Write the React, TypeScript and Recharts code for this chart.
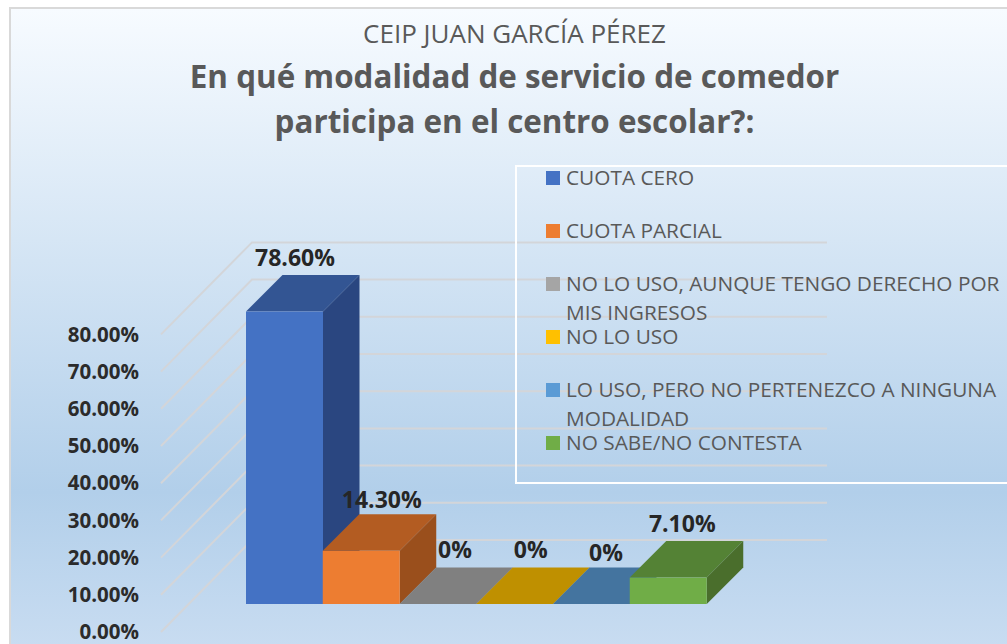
import React from 'react';
import { BarChart, Bar, XAxis, YAxis, CartesianGrid, LabelList, Legend } from 'recharts';

const categories = ['CUOTA CERO', 'CUOTA PARCIAL', 'NO LO USO, AUNQUE TENGO DERECHO POR MIS INGRESOS', 'NO LO USO', 'LO USO, PERO NO PERTENEZCO A NINGUNA MODALIDAD', 'NO SABE/NO CONTESTA'];
const values = [0.786, 0.143, 0, 0, 0, 0.071];
const valueLabels = ['78.60%', '14.30%', '0%', '0%', '0%', '7.10%'];
const yTicks = [0, 0.1, 0.2, 0.3, 0.4, 0.5, 0.6, 0.7, 0.8];
const frontColors = ['#4472c4', '#ed7d31', '#a5a5a5', '#ffc000', '#5b9bd5', '#70ad47'];
const topColors = ['#335593', '#b35c22', '#808080', '#bf9000', '#44749f', '#548235'];
const sideColors = ['#2a4680', '#9a4f1c', '#6f6f6f', '#a67c00', '#3b6489', '#4a6e2c'];

const data = categories.map((name, i) => ({ name, value: values[i], label: valueLabels[i] }));

const FONT = '"Open Sans", "Noto Sans", sans-serif';
const DEPTH = 36.5;
const labelOffsets = [
  { dx: 10.5, dy: -54 },
  { dx: 20.5, dy: -51 },
  { dx: 17, dy: -54 },
  { dx: 16, dy: -54 },
  { dx: 14.5, dy: -51 },
  { dx: 14, dy: -53.6 },
];
const legendTops = [163, 216, 269, 322, 375, 428];

function Bar3D(props: any) {
  const { x, y, width, height, index } = props;
  const r = x + width;
  const b = y + height;
  return (
    <g>
      <polygon points={`${x},${y} ${r},${y} ${r + DEPTH},${y - DEPTH} ${x + DEPTH},${y - DEPTH}`} fill={topColors[index]} />
      {height > 0 && (
        <>
          <polygon points={`${r},${y} ${r + DEPTH},${y - DEPTH} ${r + DEPTH},${b - DEPTH} ${r},${b}`} fill={sideColors[index]} />
          <rect x={x} y={y} width={width} height={height} fill={frontColors[index]} />
        </>
      )}
    </g>
  );
}

function WallLine(props: any) {
  const { y1 } = props;
  const fx = 161;
  const bx = 252;
  const fy = y1 + 28;
  const by = y1 - 64;
  return (
    <polyline key={y1} points={`${fx},${fy} ${bx},${by} 827,${by}`} fill="none" stroke="#d3d5d9" strokeWidth={2} />
  );
}

function YTick(props: any) {
  const { y, payload } = props;
  return (
    <text x={139} y={y + 28} dy="0.35em" textAnchor="end" fontFamily={FONT} fontWeight={700} fontSize={20.5} fill="#2b2b2b">
      {(payload.value * 100).toFixed(2)}%
    </text>
  );
}

function ValueLabel(props: any) {
  const { x, y, width, value, index } = props;
  const o = labelOffsets[index];
  return (
    <text x={x + width / 2 + o.dx} y={y + o.dy} dy="0.35em" textAnchor="middle" fontFamily={FONT} fontWeight={700} fontSize={23} fill="#262626">
      {value}
    </text>
  );
}

function LegendBox() {
  return (
    <div style={{ position: 'relative', width: 1007, height: 644, fontFamily: FONT, textAlign: 'left', pointerEvents: 'none' }}>
      <div style={{ position: 'absolute', left: 515, top: 165, width: 500, height: 315, border: '2px solid #ffffff', boxSizing: 'content-box' }} />
      {categories.map((c, i) => (
        <div key={c}>
          <div style={{ position: 'absolute', left: 546, top: legendTops[i] + 8, width: 14, height: 14, background: frontColors[i] }} />
          <div style={{ position: 'absolute', left: 566, top: legendTops[i], width: 438, fontSize: 20.8, lineHeight: '29px', color: '#595959' }}>{c}</div>
        </div>
      ))}
    </div>
  );
}

export default function App() {
  return (
    <div style={{ position: 'absolute', left: 0, top: 0, width: 1007, height: 644, overflow: 'hidden', background: '#fff' }}>
      <div
        style={{
          position: 'absolute', left: 9, top: 7, width: 1010, height: 650, boxSizing: 'border-box',
          borderLeft: '2px solid #d9d9d9', borderTop: '2px solid #d9d9d9',
          background: 'linear-gradient(to bottom, #f7fbff 0px, #b2cfea 483px, #c8dcf1 637px)',
        }}
      />
      <div style={{ position: 'absolute', left: 0, top: 15, width: 1029, textAlign: 'center', fontFamily: FONT, fontSize: 26, lineHeight: '36px', color: '#595959' }}>
        CEIP JUAN GARCÍA PÉREZ
      </div>
      <div style={{ position: 'absolute', left: 0, top: 53, width: 1029, textAlign: 'center', fontFamily: FONT, fontSize: 31.4, fontWeight: 700, lineHeight: '45px', color: '#595959' }}>
        En qué modalidad de servicio de comedor<br />participa en el centro escolar?:
      </div>
      <div style={{ position: 'absolute', left: 0, top: 0 }}>
        <BarChart
          width={1007}
          height={644}
          data={data}
          barCategoryGap={0}
          margin={{ top: 306.4, right: 300.5, bottom: 40, left: 0 }}
        >
          <CartesianGrid vertical={false} horizontal={(p: any) => <WallLine {...p} />} />
          <XAxis dataKey="name" hide />
          <YAxis width={246} domain={[0, 0.8]} ticks={yTicks} tick={(p: any) => <YTick {...p} />} axisLine={false} tickLine={false} interval={0} />
          <Bar dataKey="value" isAnimationActive={false} shape={(p: any) => <Bar3D {...p} />}>
            <LabelList dataKey="label" content={(p: any) => <ValueLabel {...p} />} />
          </Bar>
          <Legend layout="horizontal" verticalAlign="middle" content={() => <LegendBox />} wrapperStyle={{ position: 'absolute', left: 0, top: 0, bottom: 'auto', width: 1007, height: 644, margin: 0, pointerEvents: 'none' }} />
        </BarChart>
      </div>
    </div>
  );
}
